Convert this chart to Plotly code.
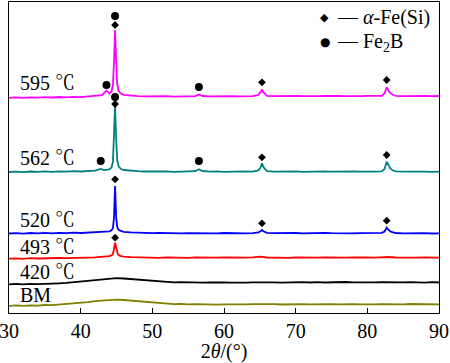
import plotly.graph_objects as go

# ---------------- data (intensity in arbitrary offset units) ----------------
bm_x = [30,31,32,33,34,35,36,37,38,39,40,41,42,43,44,45,46,47,48,49,50,51,52,53,54,55,56,57,58,59,
        60,61,62,63,64,65,66,67,68,69,70,71,72,73,74,75,76,77,78,79,80,81,82,83,84,85,86,87,88,89,90]
bm_y = [7.2,7.6,7.1,7.7,7.4,8.0,7.8,8.3,8.8,9.4,
        10.0,10.9,11.8,12.5,13.0,13.3,13.0,12.4,11.6,10.9,
        10.2,9.6,9.3,8.9,9.1,8.6,8.9,8.5,8.8,8.4,
        8.7,8.5,8.9,8.6,8.8,9.0,8.6,8.9,8.5,8.8,
        8.6,8.9,8.7,9.0,8.6,8.9,8.7,9.1,8.8,8.6,
        9.0,8.7,8.9,8.6,8.9,8.7,9.0,8.8,8.6,8.9,8.7]

t420_x = bm_x
t420_y = [28.7,29.1,28.6,29.2,28.9,29.4,29.2,29.7,30.1,30.8,
          31.5,32.4,33.3,34.0,34.6,34.8,34.5,33.9,33.1,32.4,
          31.8,31.3,31.0,30.6,30.8,30.4,30.7,30.3,30.6,30.2,
          30.5,30.3,30.7,30.4,30.6,30.8,30.4,30.7,30.3,30.6,
          30.4,30.8,30.5,30.9,30.5,30.8,30.6,31.0,30.7,30.5,
          30.9,30.6,30.8,30.5,30.9,30.6,30.9,30.6,30.4,30.8,30.5]

t493_x = [30,31,32,33,34,35,36,37,38,39,40,41,42,43,44,44.4,44.6,44.8,45.0,45.2,45.5,
          46,47,48,49,50,51,52,53,54,55,56,57,58,59,60,61,62,63,64,65,
          66,67,68,69,70,71,72,73,74,75,76,77,78,79,80,81,82,83,84,85,86,87,88,89,90]
t493_y = [54.3,54.7,54.2,54.8,54.5,54.9,54.6,55.0,54.8,55.2,
          55.0,55.4,55.6,56.0,56.8,58.0,62.0,70.3,62.5,58.5,57.2,
          56.4,55.9,55.6,55.3,55.5,55.2,55.6,55.3,55.5,55.2,
          55.6,55.3,55.7,55.4,55.6,55.3,55.7,55.4,55.6,56.3,
          55.5,55.3,55.6,55.2,55.5,55.3,55.7,55.4,55.6,55.3,
          55.6,55.4,55.7,55.3,55.5,55.4,55.7,56.0,55.5,55.3,
          55.6,55.3,55.5,55.2,55.4]

t520_x = [30,31,32,33,34,35,36,37,38,39,40,41,42,43,
          44,44.3,44.5,44.65,44.8,44.95,45.1,45.3,45.6,
          46,47,48,49,50,51,52,53,54,55,56,57,58,59,60,61,62,63,64,
          64.8,65.1,65.3,65.5,65.8,
          66,67,68,69,70,71,72,73,74,75,76,77,78,79,80,81,82,
          82.4,82.7,82.9,83.2,83.6,
          84,85,86,87,88,89,90]
t520_y = [79.5,79.9,79.4,80.0,79.6,80.1,79.7,80.2,79.8,80.3,80.0,80.3,80.5,80.8,
          81.6,82.6,85.0,95.0,127.0,96.0,86.0,83.0,82.0,
          81.2,80.6,80.2,80.0,79.8,80.1,79.7,80.0,79.6,79.9,79.7,80.1,79.8,79.6,80.0,79.7,80.0,79.6,79.9,
          80.6,81.8,83.0,81.8,80.8,
          80.2,79.8,80.1,79.7,80.0,79.6,79.9,79.7,80.1,79.8,79.6,80.0,79.7,79.9,80.0,79.8,80.1,
          81.5,85.3,83.5,81.6,80.6,
          80.0,79.7,79.9,79.6,79.8,79.5,79.7]

t562_x = [30,31,32,33,34,35,36,37,38,39,40,41,42,
          42.8,43.3,44,44.3,44.5,44.65,44.8,44.95,45.1,45.3,45.6,
          46,47,48,49,50,51,52,53,54,55,56,
          56.5,
          57,58,59,60,61,62,63,64,
          64.8,65.1,65.3,65.5,65.8,
          66,67,68,69,70,71,72,73,74,75,76,77,78,79,80,81,82,
          82.4,82.7,82.9,83.2,83.6,
          84,85,86,87,88,89,90]
t562_y = [141.0,141.4,140.9,141.5,141.1,141.6,141.2,141.7,141.3,141.8,141.5,141.9,142.3,
          144.0,142.8,143.5,145.5,151.0,172.0,207.0,174.0,153.0,146.5,144.2,
          143.0,142.2,141.8,141.5,141.7,141.3,141.6,141.2,141.5,141.3,141.8,
          143.8,
          142.0,141.4,141.7,141.2,141.5,141.3,141.6,141.4,
          142.5,145.5,149.7,146.0,143.0,
          141.8,141.4,141.7,141.3,141.6,141.2,141.5,141.3,141.7,141.4,141.6,141.2,141.5,141.3,141.7,141.4,141.6,
          144.0,151.3,148.0,144.5,142.5,
          141.6,141.3,141.5,141.2,141.4,141.1,141.3]

t595_x = [30,31,32,33,34,35,36,37,38,39,40,41,42,43,
          43.6,44.0,44.3,44.5,44.65,44.8,44.95,45.1,45.3,45.6,
          46,47,48,49,50,51,52,53,54,55,56,
          56.5,
          57,58,59,60,61,62,63,64,
          64.8,65.1,65.3,65.5,65.8,
          66,67,68,69,70,71,72,73,74,75,76,77,78,79,80,81,82,
          82.4,82.7,82.9,83.2,83.6,
          84,85,86,87,88,89,90]
t595_y = [215.2,215.6,215.1,215.7,215.4,215.9,215.5,216.0,215.7,216.2,215.9,216.4,216.8,217.8,
          222.5,219.5,221.5,228.0,250.0,283.0,252.0,229.0,222.0,219.5,
          218.2,217.4,216.9,216.6,216.9,216.5,216.8,216.4,216.7,216.5,216.9,
          218.5,
          217.0,216.6,216.9,216.5,216.8,216.6,216.9,216.8,
          218.0,220.5,223.0,220.5,218.3,
          217.2,216.8,217.1,216.7,217.0,216.8,217.2,216.9,217.1,216.7,217.0,216.8,217.2,216.9,217.1,216.8,217.1,
          219.5,225.7,223.0,219.8,218.0,
          217.2,216.9,217.1,216.8,217.0,216.9,217.0]

# phase marker positions (peak 2theta, marker height)
fesi_x = [44.8, 44.8, 65.3, 82.7, 44.8, 65.3, 82.7, 44.8, 65.3, 82.7]
fesi_y = [75.3, 133.7, 89.7, 92.3, 209.0, 155.7, 158.0, 288.0, 230.7, 233.0]
fe2b_x = [44.8, 42.8, 56.5, 44.8, 43.6, 56.5]
fe2b_y = [216.0, 152.0, 152.0, 297.0, 228.0, 226.0]

labels = ["595 ℃", "562 ℃", "520 ℃", "493 ℃", "420 ℃", "BM"]
label_y = [230, 155, 93, 66, 41, 18]
label_x = 31.3

legend_symbols = ["◆", "●"]
legend_texts = ["— <i>α</i>-Fe(Si)", "— Fe<sub>2</sub>B"]

x_ticks = [30, 40, 50, 60, 70, 80, 90]

series = [
    (bm_x, bm_y, "#808000"),
    (t420_x, t420_y, "#000000"),
    (t493_x, t493_y, "#FF0000"),
    (t520_x, t520_y, "#0000FF"),
    (t562_x, t562_y, "#008080"),
    (t595_x, t595_y, "#FF00FF"),
]

FONT = "Liberation Serif, Times New Roman, Noto Serif CJK SC, Noto Sans CJK SC, serif"

fig = go.Figure()
for xs, ys, col in series:
    fig.add_trace(go.Scatter(x=xs, y=ys, mode="lines", line=dict(color=col, width=1.8),
                             showlegend=False, hoverinfo="skip"))

fig.add_trace(go.Scatter(x=fesi_x, y=fesi_y, mode="markers",
                         marker=dict(symbol="diamond", size=6, color="black"),
                         name="α-Fe(Si)", showlegend=False))
fig.add_trace(go.Scatter(x=fe2b_x, y=fe2b_y, mode="markers",
                         marker=dict(symbol="circle", size=8, color="black"),
                         name="Fe2B", showlegend=False))

for t, yv in zip(labels, label_y):
    fig.add_annotation(x=label_x, y=yv, text=t, showarrow=False, xanchor="left", yanchor="middle",
                       font=dict(size=20, color="black", family=FONT))

# legend drawn as text (paper coordinates of the plot area)
leg_y = [0.950, 0.871]
sym_sizes = [11, 12]
for sym, txt, yv, ss in zip(legend_symbols, legend_texts, leg_y, sym_sizes):
    fig.add_annotation(xref="paper", yref="paper", x=0.734, y=yv, text=sym, showarrow=False,
                       xanchor="center", yanchor="middle",
                       font=dict(size=ss, color="black", family="DejaVu Sans"))
    fig.add_annotation(xref="paper", yref="paper", x=0.757, y=yv, text=txt, showarrow=False,
                       xanchor="left", yanchor="middle",
                       font=dict(size=20, color="black", family=FONT))

fig.update_layout(
    width=450, height=363,
    margin=dict(l=9, r=11, t=2, b=50),
    paper_bgcolor="white", plot_bgcolor="white",
    font=dict(family=FONT, size=20, color="black"),
    showlegend=False,
    xaxis=dict(range=[30, 90], tickvals=x_ticks, ticks="inside", ticklen=5, tickwidth=1,
               tickcolor="black", showline=True, linecolor="black", linewidth=1.3, mirror=True,
               showgrid=False, zeroline=False, ticklabeloverflow="allow", automargin=False,
               title=dict(text="2<i>θ</i>/(°)", standoff=4, font=dict(size=20))),
    yaxis=dict(range=[0, 311], showticklabels=False, ticks="", showline=True, linecolor="black",
               linewidth=1.3, mirror=True, showgrid=False, zeroline=False, automargin=False),
)

fig.write_html("out.html", config={"displayModeBar": False},
               post_script="document.body.style.margin='0';document.body.style.overflow='hidden';")
